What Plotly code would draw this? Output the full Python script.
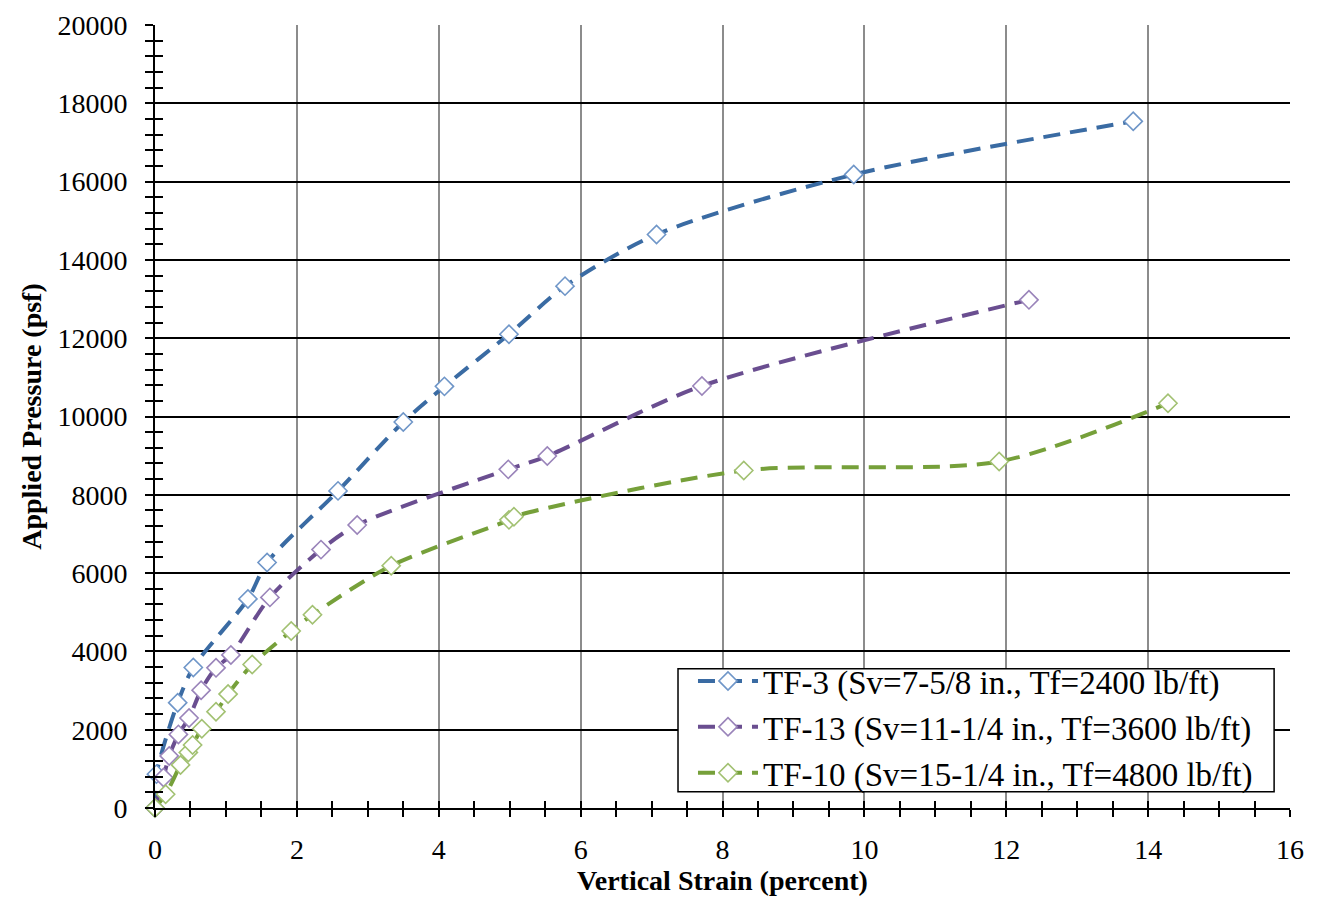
import plotly.graph_objects as go

# ---- data ----
tf3_strain = [0, 0.02, 0.32, 0.54, 1.31, 1.58, 2.58, 3.50, 4.08, 4.99, 5.78, 7.07, 9.85, 13.79]
tf3_pressure = [0, 865, 2690, 3590, 5340, 6270, 8100, 9860, 10770, 12100, 13330, 14650, 16180, 17540]

tf13_strain = [0, 0.12, 0.20, 0.33, 0.48, 0.65, 0.86, 1.07, 1.62, 2.34, 2.85, 4.98, 5.53, 7.71, 12.32]
tf13_pressure = [0, 780, 1330, 1880, 2300, 3010, 3580, 3910, 5380, 6600, 7230, 8650, 8990, 10780, 12980]

tf10_strain = [0, 0.15, 0.36, 0.47, 0.53, 0.66, 0.86, 1.03, 1.37, 1.92, 2.22, 3.33, 4.99, 5.06, 8.30, 11.90, 14.28]
tf10_pressure = [0, 350, 1100, 1420, 1610, 2025, 2460, 2910, 3665, 4520, 4935, 6190, 7360, 7440, 8620, 8850, 10340]

series_names = [
    "TF-3 (Sv=7-5/8 in., Tf=2400 lb/ft)",
    "TF-13 (Sv=11-1/4 in., Tf=3600 lb/ft)",
    "TF-10 (Sv=15-1/4 in., Tf=4800 lb/ft)",
]
line_colors = ["#3A6BA3", "#6A4E90", "#76A03A"]
marker_colors = ["#6F96C8", "#9A84BA", "#A2C172"]

x_title = "Vertical Strain (percent)"
y_title = "Applied Pressure (psf)"

FONT = "Liberation Serif, Times New Roman, serif"

fig = go.Figure()
for xs, ys, name, lc, mc in zip(
    [tf3_strain, tf13_strain, tf10_strain],
    [tf3_pressure, tf13_pressure, tf10_pressure],
    series_names, line_colors, marker_colors,
):
    fig.add_trace(go.Scatter(
        x=xs, y=ys, name=name, mode="lines+markers",
        line=dict(color=lc, width=4, dash="17px,10px", shape="spline", smoothing=0.8),
        marker=dict(symbol="diamond", size=14, color="white", line=dict(width=1.6, color=mc)),
        cliponaxis=False,
    ))

# legend frame (white box over the gridlines; the legend itself is drawn on top)
fig.add_shape(type="rect", xref="paper", yref="paper",
              x0=0.4608, x1=0.986, y0=0.0206, y1=0.178,
              fillcolor="white", line=dict(color="black", width=1.5), layer="above")

fig.update_layout(
    width=1314, height=892,
    paper_bgcolor="white", plot_bgcolor="white",
    margin=dict(l=147, r=32, t=17, b=92),
    font=dict(family=FONT, size=28, color="black"),
    showlegend=True,
    legend=dict(
        x=0.474, y=0.198, xanchor="left", yanchor="top",
        bgcolor="rgba(0,0,0,0)", borderwidth=0,
        font=dict(family=FONT, size=33, color="black"),
        tracegroupgap=0, itemwidth=60,
    ),
    xaxis=dict(
        range=[0, 16], tick0=0, dtick=2, automargin=False,
        showgrid=True, gridcolor="#8C8C8C", gridwidth=1.5,
        showline=True, linecolor="black", linewidth=2,
        ticks="outside", ticklen=7, tickcolor="black", tickwidth=1.5,
        minor=dict(dtick=0.5, ticks="outside", ticklen=7, tickcolor="black", tickwidth=1.5, showgrid=False),
        zeroline=False, ticklabelstandoff=8,
        tickfont=dict(family=FONT, size=28),
        title=dict(text="<b>" + x_title + "</b>", font=dict(family=FONT, size=28), standoff=0),
    ),
    yaxis=dict(
        range=[0, 20000.5], tick0=0, dtick=2000, automargin=False, tickformat="d",
        showgrid=True, gridcolor="black", gridwidth=1.5,
        showline=True, linecolor="black", linewidth=2,
        ticks="outside", ticklen=8, tickcolor="black", tickwidth=1.5,
        minor=dict(dtick=400, ticks="outside", ticklen=8, tickcolor="black", tickwidth=1.5, showgrid=False),
        zeroline=False, ticklabelstandoff=12, ticklabeloverflow="allow",
        tickfont=dict(family=FONT, size=28),
        title=dict(text="<b>" + y_title + "</b>", font=dict(family=FONT, size=28), standoff=8),
    ),
    xaxis2=dict(
        overlaying="x", range=[0, 16], tick0=0, dtick=2, side="bottom",
        showgrid=False, showticklabels=False, zeroline=False, automargin=False,
        ticks="inside", ticklen=7, tickcolor="black", tickwidth=1.5,
        minor=dict(dtick=0.5, ticks="inside", ticklen=7, tickcolor="black", tickwidth=1.5),
        anchor="y",
    ),
    yaxis2=dict(
        overlaying="y", range=[0, 20000.5], tick0=0, dtick=2000, side="left",
        showgrid=False, showticklabels=False, zeroline=False, automargin=False,
        ticks="inside", ticklen=8, tickcolor="black", tickwidth=1.5,
        minor=dict(dtick=400, ticks="inside", ticklen=8, tickcolor="black", tickwidth=1.5),
        anchor="x",
    ),
)

# invisible helper trace so the overlaid tick axes are drawn
fig.add_trace(go.Scatter(x=[None], y=[None], xaxis="x2", yaxis="y2",
                         showlegend=False, hoverinfo="skip"))

fig.write_html("out.html")
